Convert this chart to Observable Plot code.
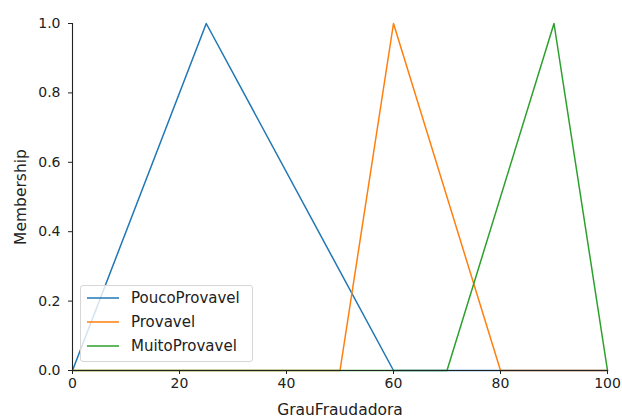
<!DOCTYPE html>
<html>
<head>
<meta charset="utf-8">
<script src="https://cdn.jsdelivr.net/npm/d3@7"></script>
<script src="https://cdn.jsdelivr.net/npm/@observablehq/plot@0.6"></script>
<style>
  html, body { margin: 0; padding: 0; background: #fff; }
  #wrap { position: relative; width: 622px; height: 416px; overflow: hidden; font-family: "DejaVu Sans", sans-serif; }
  #legend { position: absolute; left: 80px; top: 285px; width: 171px; height: 75px; border: 1px solid #d6d6d6; border-radius: 3px; background: rgba(255,255,255,0.8); }
  .row { position: absolute; left: 0; height: 20px; display: flex; align-items: center; font-size: 15px; color: #222; white-space: nowrap; }
  .row svg { margin-left: 6px; margin-right: 12px; }
</style>
</head>
<body>
<div id="wrap"></div>
<script>
// Series names and colours
const seriesNames = ["PoucoProvavel", "Provavel", "MuitoProvavel"];
const seriesColors = ["#1f77b4", "#ff7f0e", "#2ca02c"];

// Vertices of each membership function over the universe 0..100
const poucoX = [0, 25, 60, 100];
const poucoY = [0, 1, 0, 0];
const provavelX = [0, 50, 60, 80, 100];
const provavelY = [0, 0, 1, 0, 0];
const muitoX = [0, 70, 90, 100];
const muitoY = [0, 0, 1, 0];

// Tick labels
const xTicks = [0, 20, 40, 60, 80, 100];
const yTicks = [0, 0.2, 0.4, 0.6, 0.8, 1.0];

const seriesX = [poucoX, provavelX, muitoX];
const seriesY = [poucoY, provavelY, muitoY];
const data = [];
seriesNames.forEach((name, i) => {
  seriesX[i].forEach((x, j) => data.push({series: name, x, y: seriesY[i][j]}));
});

const chart = Plot.plot({
  width: 622,
  height: 416,
  marginLeft: 72,
  marginRight: 15,
  marginTop: 23,
  marginBottom: 46,
  style: {fontFamily: "DejaVu Sans, sans-serif", fontSize: "14px", color: "#222", background: "#fff"},
  x: {domain: [0, 100]},
  y: {domain: [0, 1]},
  color: {domain: seriesNames, range: seriesColors},
  marks: [
    Plot.line(data, {x: "x", y: "y", z: "series", stroke: "series", strokeWidth: 1.5}),
    Plot.ruleX([0], {stroke: "#222", strokeWidth: 1.1}),
    Plot.ruleY([0], {stroke: "#222", strokeWidth: 1.1}),
    Plot.axisX({ticks: xTicks, tickSize: 4, tickPadding: 4, tickFormat: d3.format("d"), fontSize: 14,
      label: "GrauFraudadora", labelAnchor: "center", labelArrow: "none", labelOffset: 44}),
    Plot.axisY({ticks: yTicks, tickSize: 4, tickPadding: 8, tickFormat: d3.format(".1f"), fontSize: 14,
      label: "Membership", labelAnchor: "center", labelArrow: "none", labelOffset: 58})
  ]
});

// Axis titles slightly larger than tick labels
d3.select(chart).selectAll('g[aria-label="x-axis label"] text, g[aria-label="y-axis label"] text')
  .style("font-size", "15.5px");

const wrap = document.getElementById("wrap");
wrap.appendChild(chart);

// Legend overlay
const legend = document.createElement("div");
legend.id = "legend";
seriesNames.forEach((name, i) => {
  const row = document.createElement("div");
  row.className = "row";
  row.style.top = (2 + i * 24) + "px";
  row.innerHTML = `<svg width="32" height="4"><line x1="0" y1="2" x2="32" y2="2" stroke="${seriesColors[i]}" stroke-width="1.5"/></svg><span>${name}</span>`;
  legend.appendChild(row);
});
wrap.appendChild(legend);
</script>
</body>
</html>
